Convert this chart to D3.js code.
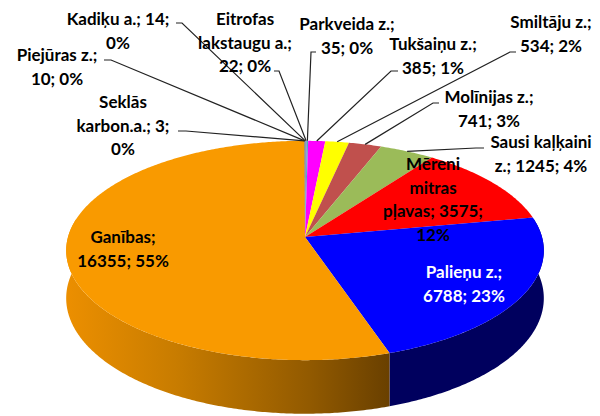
<!DOCTYPE html>
<html>
<head>
<meta charset="utf-8">
<script src="https://cdn.jsdelivr.net/npm/d3@7"></script>
<style>
  body { margin: 0; background: #fff; }
  svg { display: block; }
  text { font-family: Lato, "Liberation Sans", sans-serif; font-weight: bold; font-size: 17px; }
</style>
</head>
<body>
<svg width="600" height="416"></svg>
<script>
// data, in the order the slices run clockwise from 12 o'clock
const categories = ["Kadiķu a.", "Eitrofas lakstaugu a.", "Parkveida z.", "Tukšaiņu z.", "Smiltāju z.",
  "Molīnijas z.", "Sausi kaļķaini z.", "Mēreni mitras pļavas", "Palieņu z.", "Ganības",
  "Seklās karbon.a.", "Piejūras z."];
const values = [14, 22, 35, 385, 534, 741, 1245, 3575, 6788, 16355, 3, 10];
const percents = ["0%", "0%", "0%", "1%", "2%", "3%", "4%", "12%", "23%", "55%", "0%", "0%"];
const labelTexts = [
  ["Kadiķu a.; 14;", "0%"],
  ["Eitrofas", "lakstaugu a.;", "22; 0%"],
  ["Parkveida z.;", "35; 0%"],
  ["Tukšaiņu z.;", "385; 1%"],
  ["Smiltāju z.;", "534; 2%"],
  ["Molīnijas z.;", "741; 3%"],
  ["Sausi kaļķaini", "z.; 1245; 4%"],
  ["Mēreni", "mitras", "pļavas; 3575;", "12%"],
  ["Palieņu z.;", "6788; 23%"],
  ["Ganības;", "16355; 55%"],
  ["Seklās", "karbon.a.; 3;", "0%"],
  ["Piejūras z.;", "10; 0%"]
];
const colors = ["#4f81bd", "#8064a2", "#4bacc6", "#ff00ff", "#ffff00", "#c0504d",
  "#9bbb59", "#ff0000", "#0000ff", "#f99a00", "#f79646", "#2c4d75"];
const sideColors = {8: "#00005e", 9: "url(#orangeSide)"};

// label layout: centre x, first baseline, leader start and knee (null = inside label)
const labelPos = [
  {x: 118, y: 25, start: [176, 23], knee: [182, 23]},
  {x: 245, y: 25, start: [274, 71], knee: [279, 71]},
  {x: 347, y: 30, start: [316, 52], knee: [311, 52]},
  {x: 433, y: 50, start: [398, 71], knee: [391, 71]},
  {x: 551, y: 28, start: [516, 52], knee: [510, 52]},
  {x: 489, y: 103, start: [439, 103], knee: [433, 103]},
  {x: 541, y: 148, start: [484, 148], knee: [476, 148]},
  {x: 433, y: 170, start: null},
  {x: 464, y: 278, start: null, fill: "#fff"},
  {x: 123, y: 243, start: null},
  {x: 123, y: 108, start: [178, 131], knee: [186, 131]},
  {x: 57, y: 61, start: [104, 60], knee: [111, 60]}
];
const lineHeight = 23.5;

// 3d pie projection
const cx = 305, cy = 237, rx = 237, ry = 108, persp = 0.123, depth = 47;
function proj(a, h) {
  const u = Math.sin(a), w = -Math.cos(a);
  const s = 1 / (1 - persp * w);
  return [cx + rx * u * s, cy + (ry * w + depth * h) * s];
}
function arcPts(a0, a1, h) {
  const n = Math.max(2, Math.ceil((a1 - a0) / 0.01));
  return d3.range(n + 1).map(i => proj(a0 + (a1 - a0) * i / n, h));
}
const line = d3.line();

const svg = d3.select("svg");
const defs = svg.append("defs");
const grad = defs.append("linearGradient").attr("id", "orangeSide")
  .attr("gradientUnits", "userSpaceOnUse").attr("x1", 60).attr("x2", 392).attr("y1", 0).attr("y2", 0);
grad.append("stop").attr("offset", 0).attr("stop-color", "#ee9000");
grad.append("stop").attr("offset", 0.35).attr("stop-color", "#c87c00");
grad.append("stop").attr("offset", 0.75).attr("stop-color", "#925a00");
grad.append("stop").attr("offset", 1).attr("stop-color", "#683f00");

const arcs = d3.pie().sort(null).startAngle(0).endAngle(2 * Math.PI)(values);

// side walls (only the near half shows)
const lo = 80 * Math.PI / 180, hi = 280 * Math.PI / 180;
svg.append("g").selectAll("path")
  .data(arcs.filter(d => d.endAngle > lo && d.startAngle < hi))
  .join("path")
  .attr("d", d => {
    const a0 = Math.max(d.startAngle, lo), a1 = Math.min(d.endAngle, hi);
    return line(arcPts(a0, a1, 0).concat(arcPts(a0, a1, 1).reverse())) + "Z";
  })
  .attr("fill", d => sideColors[d.index] || d3.color(colors[d.index]).darker(1.5));

// top face
svg.append("g").selectAll("path")
  .data(arcs)
  .join("path")
  .attr("d", d => line([proj(0, 0).map((v, i) => i ? cy : cx)].concat(arcPts(d.startAngle, d.endAngle, 0))) + "Z")
  .attr("fill", d => colors[d.index]);

// leader lines
svg.append("g").selectAll("path")
  .data(arcs.filter(d => labelPos[d.index].start))
  .join("path")
  .attr("d", d => {
    const p = labelPos[d.index];
    const end = proj((d.startAngle + d.endAngle) / 2, 0);
    return line([p.start, p.knee, end]);
  })
  .attr("fill", "none").attr("stroke", "#222").attr("stroke-width", 1.2);

// labels
svg.append("g").selectAll("text")
  .data(arcs)
  .join("text")
  .attr("text-anchor", "middle")
  .attr("fill", d => labelPos[d.index].fill || "#000")
  .each(function (d) {
    const p = labelPos[d.index];
    d3.select(this).selectAll("tspan")
      .data(labelTexts[d.index])
      .join("tspan")
      .attr("x", p.x)
      .attr("y", (t, i) => p.y + i * lineHeight)
      .text(t => t);
  });
</script>
</body>
</html>
